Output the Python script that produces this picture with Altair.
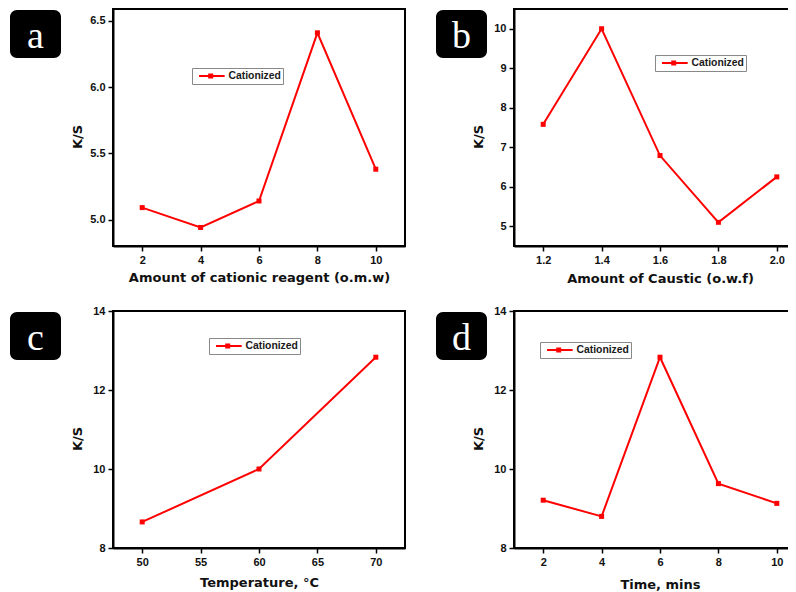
import altair as alt
import pandas as pd

series_name = ["Cationized"]
panel_letters = ["a", "b", "c", "d"]

a_x = [2, 4, 6, 8, 10]
a_y = [5.09, 4.94, 5.14, 6.41, 5.38]
b_x = [1.2, 1.4, 1.6, 1.8, 2.0]
b_y = [7.58, 10.0, 6.79, 5.10, 6.25]
c_x = [50, 60, 70]
c_y = [8.66, 10.0, 12.83]
d_x = [2, 4, 6, 8, 10]
d_y = [9.21, 8.80, 12.83, 9.63, 9.13]

x_titles = ["Amount of cationic reagent (o.m.w)", "Amount of Caustic (o.w.f)",
            "Temperature, °C", "Time, mins"]
y_title = "K/S"

a_xticks = [2, 4, 6, 8, 10]
b_xticks = [1.2, 1.4, 1.6, 1.8, 2.0]
c_xticks = [50, 55, 60, 65, 70]
d_xticks = [2, 4, 6, 8, 10]
a_yticks = [5.0, 5.5, 6.0, 6.5]
b_yticks = [5, 6, 7, 8, 9, 10]
c_yticks = [8, 10, 12, 14]
d_yticks = [8, 10, 12, 14]

W, H = 292, 237


def panel(xs, ys, letter, xtitle, xdom, xticks, xfmt, ydom, yticks, yfmt,
          leg_x, leg_y, box_x, xtitle_y):
    df = pd.DataFrame({"x": xs, "y": ys, "series": series_name * len(xs)})
    X = alt.X("x:Q", scale=alt.Scale(domain=xdom, nice=False, zero=False),
              axis=alt.Axis(values=xticks, format=xfmt, title=xtitle,
                            titleY=xtitle_y, titleBaseline="alphabetic"))
    Y = alt.Y("y:Q", scale=alt.Scale(domain=ydom, nice=False, zero=False),
              axis=alt.Axis(values=yticks, format=yfmt, title=y_title,
                            titleX=-36, titleY=127.5, titleAngle=270,
                            titleBaseline="middle", titleAlign="center"))
    color = alt.Color("series:N", scale=alt.Scale(range=["#ff0000"]),
                      legend=alt.Legend(title=None, orient="none",
                                        legendX=leg_x, legendY=leg_y))
    line = alt.Chart(df).mark_line(strokeWidth=2).encode(x=X, y=Y, color=color)
    pts = alt.Chart(df).mark_point(shape="square", filled=True, size=25,
                                   opacity=1).encode(x=X, y=Y, color=color)
    tag = pd.DataFrame({"letter": [letter]})
    box = alt.Chart(tag).mark_rect(color="black", cornerRadius=7).encode(
        x=alt.value(box_x), x2=alt.value(box_x + 51),
        y=alt.value(1), y2=alt.value(49))
    txt = alt.Chart(tag).mark_text(font="Liberation Serif", fontSize=38,
                                   color="white", align="center",
                                   baseline="alphabetic").encode(
        x=alt.value(box_x + 25.5), y=alt.value(39), text="letter:N")
    return alt.layer(line, pts, box, txt).properties(width=W, height=H)


pa = panel(a_x, a_y, panel_letters[0], x_titles[0], [1, 11], a_xticks, "d",
           [4.8, 6.59], a_yticks, ".1f", 79, 59, -103, 35.7)
pb = panel(b_x, b_y, panel_letters[1], x_titles[1], [1.1, 2.1], b_xticks, ".1f",
           [4.5, 10.5], b_yticks, "d", 141, 46, -78, 36)
pc = panel(c_x, c_y, panel_letters[2], x_titles[2], [47.5, 72.5], c_xticks, "d",
           [8, 14], c_yticks, "d", 96, 27, -103, 38)
pd_ = panel(d_x, d_y, panel_letters[3], x_titles[3], [1, 11], d_xticks, "d",
            [8, 14], d_yticks, "d", 26, 31, -78, 40.5)

legend_path = "M-0.2,0L4.94,0M1.84,-0.3L2.44,-0.3L2.44,0.3L1.84,0.3Z"

chart = alt.concat(pa, pb, pc, pd_, columns=2).resolve_scale(
    x="independent", y="independent", color="independent"
).resolve_legend(color="independent").properties(
    bounds="flush", spacing={"row": 65, "column": 109},
    autosize=alt.AutoSizeParams(type="none"),
    padding={"left": 105, "top": 1, "right": 675, "bottom": 583}
).configure_view(
    stroke="black", strokeWidth=2
).configure_axis(
    grid=False, domainColor="black", domainWidth=2, tickColor="black",
    tickWidth=1.5, tickSize=5, labelPadding=3,
    labelFont="Liberation Sans", labelFontSize=11, labelFontWeight="bold",
    labelColor="#111111", titleFont="DejaVu Sans", titleFontSize=13,
    titleFontWeight="bold", titleColor="#111111"
).configure_legend(
    strokeColor="#888888", fillColor="white", padding=2, symbolType=legend_path,
    symbolSize=100, symbolStrokeWidth=2, symbolFillColor="#ff0000",
    symbolStrokeColor="#ff0000", labelFont="Liberation Sans", labelFontSize=10.4,
    labelFontWeight="bold", labelColor="#1a1a1a", labelOffset=22.4
)

chart.save("out.html", embed_options={"renderer": "svg", "actions": False})
